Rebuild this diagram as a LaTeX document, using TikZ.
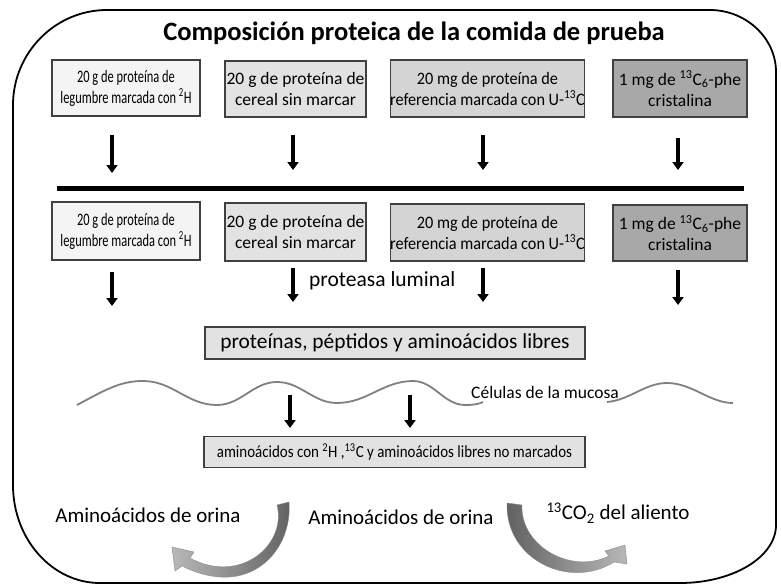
\documentclass[tikz,border=0pt]{standalone}
\usepackage{fontspec}
\setmainfont{Carlito}
\newfontfamily\condA[FakeStretch=0.71]{Carlito}
\newfontfamily\condB[FakeStretch=0.93]{Carlito}
\newfontfamily\condC[FakeStretch=0.88]{Carlito}
\usetikzlibrary{arrows.meta}
\definecolor{boxline}{RGB}{64,64,64}
\definecolor{fillA}{RGB}{244,244,244}
\definecolor{fillB}{RGB}{226,226,226}
\definecolor{fillC}{RGB}{212,212,212}
\definecolor{fillD}{RGB}{168,168,168}
\definecolor{wave}{RGB}{128,128,128}
\begin{document}
\begin{tikzpicture}[x=1pt,y=-1pt,
  box/.style={draw=boxline, line width=1.1pt, inner sep=0pt, align=center,
    font=\fontsize{17.5}{21}\selectfont},
  arr/.style={line width=3.5pt, -{Triangle[length=8pt,width=11pt]}},
  lbl/.style={inner sep=0pt, font=\fontsize{21}{24}\selectfont},
  curved/.style={draw=black!45, line width=0.4pt}]
\useasboundingbox (0,0) rectangle (781,586);
\fill[white] (0,0) rectangle (781,586);
% frame
\draw[line width=1.8pt] (107,10) -- (710,10)
  .. controls (746,10) and (776,38) .. (776,72) -- (776,525)
  .. controls (776,557) and (733,583) .. (680,583) -- (100,583)
  .. controls (52,583) and (13,539) .. (13,485) -- (13,105)
  .. controls (13,53) and (55,10) .. (107,10) -- cycle;
% title
\node[inner sep=0pt, font=\fontsize{26.5}{30}\selectfont\bfseries] (title) at (414,33) {Composición proteica de la comida de prueba};
% row 1
\node[box, fill=fillA, minimum width=148pt, minimum height=56pt] (a1) at (126,88)
  {\condA 20 g de proteína de\\\condA legumbre marcada con \textsuperscript{2}H};
\node[box, fill=fillB, minimum width=141pt, minimum height=56pt] (b1) at (295.5,89)
  {20 g de proteína de\\cereal sin marcar};
\node[box, fill=fillC, minimum width=193pt, minimum height=57pt] (c1) at (487.5,88.5)
  {\condB 20 mg de proteína de\\\condB referencia marcada con U-\textsuperscript{13}C};
\node[box, fill=fillD, minimum width=134pt, minimum height=57pt] (d1) at (680,88.5)
  {1 mg de \textsuperscript{13}C\textsubscript{6}-phe\\cristalina};
% arrows row 1
\coordinate (a1s) at (112,135); \coordinate (a1e) at (112,173);
\coordinate (b1s) at (293,135); \coordinate (b1e) at (293,170);
\coordinate (c1s) at (483,135); \coordinate (c1e) at (483,170);
\coordinate (d1s) at (678,138); \coordinate (d1e) at (678,170);
\draw[arr] (a1s) -- (a1e);
\draw[arr] (b1s) -- (b1e);
\draw[arr] (c1s) -- (c1e);
\draw[arr] (d1s) -- (d1e);
% thick line
\coordinate (hl) at (57,188); \coordinate (hr) at (744,188);
\draw[line width=5pt] (hl) -- (hr);
% row 2
\node[box, fill=fillA, minimum width=148pt, minimum height=58pt] (a2) at (126,231)
  {\condA 20 g de proteína de\\\condA legumbre marcada con \textsuperscript{2}H};
\node[box, fill=fillB, minimum width=141pt, minimum height=58pt] (b2) at (295.5,232)
  {20 g de proteína de\\cereal sin marcar};
\node[box, fill=fillC, minimum width=193pt, minimum height=57pt] (c2) at (487.5,232.5)
  {\condB 20 mg de proteína de\\\condB referencia marcada con U-\textsuperscript{13}C};
\node[box, fill=fillD, minimum width=134pt, minimum height=56pt] (d2) at (680,233)
  {1 mg de \textsuperscript{13}C\textsubscript{6}-phe\\cristalina};
% arrows row 2
\coordinate (a2s) at (112,272); \coordinate (a2e) at (112,306);
\coordinate (b2s) at (293,268); \coordinate (b2e) at (293,302);
\coordinate (c2s) at (483,268); \coordinate (c2e) at (483,302);
\coordinate (d2s) at (678,270); \coordinate (d2e) at (678,305);
\draw[arr] (a2s) -- (a2e);
\draw[arr] (b2s) -- (b2e);
\draw[arr] (c2s) -- (c2e);
\draw[arr] (d2s) -- (d2e);
\node[lbl, anchor=west, font=\fontsize{21.5}{24}\selectfont] (prot) at (309,281) {proteasa luminal};
% proteins box
\node[box, fill=fillB, minimum width=380pt, minimum height=32pt, font=\fontsize{21.4}{24}\selectfont] (pp) at (395,343)
  {proteínas, péptidos y aminoácidos libres};
% mucosa wave
\draw[wave, line width=1.8pt] (77,405) .. controls (105,390) and (120,381) .. (143,381)
  .. controls (173,381) and (187,405) .. (217,405)
  .. controls (241,405) and (253,382) .. (277,382)
  .. controls (301,382) and (313,403) .. (337,403)
  .. controls (367,403) and (383,381) .. (413,381)
  .. controls (434,381) and (444,405) .. (465,405)
  .. controls (474,405) and (479,404) .. (483,402);
\draw[wave, line width=1.8pt] (607,402) .. controls (630,400) and (645,383) .. (667,383)
  .. controls (692,383) and (710,403) .. (733,403);
\node[inner sep=0pt, font=\fontsize{17.5}{20}\selectfont] (muc) at (545,392) {Células de la mucosa};
% arrows through mucosa
\coordinate (m1s) at (290,395); \coordinate (m1e) at (290,428);
\coordinate (m2s) at (410,395); \coordinate (m2e) at (410,428);
\draw[arr] (m1s) -- (m1e);
\draw[arr] (m2s) -- (m2e);
% amino box
\node[box, fill=fillB, minimum width=381pt, minimum height=31pt, font=\fontsize{17}{20}\selectfont] (aa) at (394.5,452)
  {\condC aminoácidos con \textsuperscript{2}H ,\textsuperscript{13}C y aminoácidos libres no marcados};
% bottom labels
\node[lbl] (or1) at (148,515) {Aminoácidos de orina};
\node[lbl] (or2) at (401,517) {Aminoácidos de orina};
\node[lbl] (co2) at (618,513) {\textsuperscript{13}CO\textsubscript{2} del aliento};
% curved arrows
\shade[curved, left color=black!28, right color=black!62]
  (289,502) .. controls (293,550) and (250,600) .. (182,566) -- (175,571) -- (172,547)
  -- (194,552) -- (190,558) .. controls (240,585) and (287,545) .. (277,505) -- cycle;
\shade[curved, left color=black!62, right color=black!28]
  (507,503) .. controls (505,560) and (570,590) .. (614,562) -- (627,564) -- (625,545)
  -- (605,551) -- (609,556) .. controls (570,575) and (520,545) .. (522,505) -- cycle;
\end{tikzpicture}
\end{document}
